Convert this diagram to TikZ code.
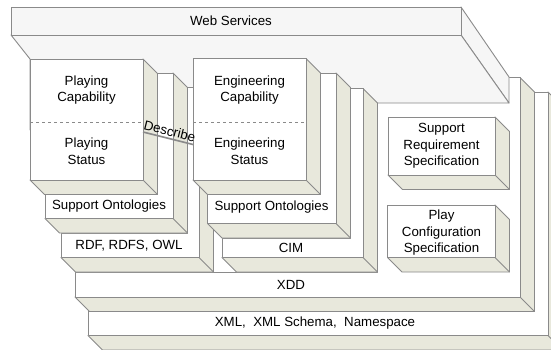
\documentclass[tikz,border=0pt]{standalone}
\usepackage{fontspec}
\setmainfont{Liberation Sans}
\definecolor{edgec}{HTML}{8A8A8A}
\definecolor{sidec}{HTML}{E8E8DC}
\definecolor{wsc}{HTML}{F6F6F6}
\def\dd{14.5}
% L-shaped slab: #1 column left, #2 right edge, #3 column top,
% #4 bar left, #5 bar top, #6 bottom; depth goes down-right by \dd
\newcommand\layerslab[6]{%
  \filldraw[sidebox] (#2,#3) -- ({#2+\dd},{#3+\dd}) -- ({#2+\dd},{#6+\dd})
     -- ({#4+\dd},{#6+\dd}) -- (#4,#6) -- (#2,#6) -- cycle;
  \draw[edgec] (#2,#6) -- ({#2+\dd},{#6+\dd});
  \filldraw[facebox] (#1,#3) -- (#2,#3) -- (#2,#6) -- (#4,#6) -- (#4,#5) -- (#1,#5) -- cycle;
}
\begin{document}
\begin{tikzpicture}[x=1pt,y=-1pt,line width=0.9pt,line join=round,
  facebox/.style={draw=edgec,fill=white},
  sidebox/.style={draw=edgec,fill=sidec},
  wsbox/.style={draw=edgec,fill=wsc},
  lbl/.style={font=\fontsize{13.3}{16.5}\selectfont,align=center,inner sep=0pt,text=black}]
\useasboundingbox (0,0) rectangle (551,349);

% base layers
\layerslab{534.5}{548}{92}{88}{311.5}{335.5}
\layerslab{377.5}{520}{77.5}{75}{272.5}{297}

% Web Services slab
\filldraw[wsbox] (461,7) -- (509,77) -- (509,103) -- (461,35) -- cycle;
\filldraw[wsbox] (11,35) -- (461,35) -- (509,103) -- (377.5,103) -- (377.5,130)
   -- (30,130) -- (30,59) -- cycle;
\filldraw[wsbox] (11,7) rectangle (461,35);

% left stack
\layerslab{187.5}{199}{87.5}{61}{233}{257.5}
\layerslab{157.5}{173}{73}{45}{194.5}{218.5}
\layerslab{30}{143}{59}{30}{59}{180}
\draw[edgec,dashed] (30,122) -- (143,122);

% middle stack
\layerslab{350.5}{363}{88.5}{222}{238}{257.5}
\layerslab{320.5}{336}{73}{207.5}{194.5}{223.5}
\layerslab{193}{306}{58.5}{193}{58.5}{180}
\draw[edgec,dashed] (193,122) -- (306,122);

% specification boxes
\layerslab{388}{495}{117}{388}{117}{175}
\layerslab{387.5}{495}{205}{387.5}{205}{257.5}

% labels
\node[lbl] (ws)  at (231,21)    {Web Services};
\node[lbl] (pc)  at (86.5,90)   {Playing\\Capability};
\node[lbl] (ps)  at (86.5,151)  {Playing\\Status};
\node[lbl] (ec)  at (249.5,90)  {Engineering\\Capability};
\node[lbl] (es)  at (249.5,151) {Engineering\\Status};
\node[lbl] (so1) at (109,206.5) {Support Ontologies};
\node[lbl] (so2) at (271.5,207.5) {Support Ontologies};
\node[lbl] (rdf) at (129,245.5) {RDF, RDFS, OWL};
\node[lbl] (cim) at (291,247.5) {CIM};
\node[lbl] (srs) at (441.5,146) {Support\\Requirement\\Specification};
\node[lbl] (pcs) at (441.5,233) {Play\\Configuration\\Specification};
\node[lbl] (xdd) at (291,285)   {XDD};
\node[lbl] (xml) at (315,323.5) {XML,\ \ XML Schema,\ \ Namespace};

% relation between the two status boxes
\coordinate (dA) at (143,132);
\coordinate (dB) at (193,144.5);
\draw[edgec,line width=1.6pt] (dA) -- (dB)
  node[midway,above,sloped,lbl,inner sep=1.5pt] (desc) {Describe};
\end{tikzpicture}
\end{document}
